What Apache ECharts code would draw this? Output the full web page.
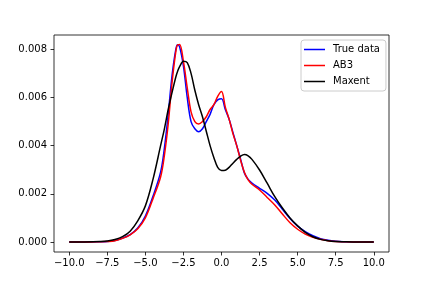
<!DOCTYPE html>
<html>
<head>
<meta charset="utf-8">
<script src="https://cdn.jsdelivr.net/npm/echarts@6/dist/echarts.min.js"></script>
<style>html,body{margin:0;padding:0;background:#fff;}#c{width:432px;height:288px;}</style>
</head>
<body>
<div id="c"></div>
<script>
var xs = [-10, -9, -8, -7.5, -7, -6.5, -6, -5.5, -5, -4.5, -4, -3.75, -3.5, -3.25, -3, -2.875, -2.75, -2.5, -2.25, -2, -1.75, -1.5, -1.25, -1, -0.75, -0.5, -0.25, 0, 0.25, 0.5, 0.75, 1, 1.25, 1.5, 1.75, 2, 2.5, 3, 3.5, 4, 4.5, 5, 5.5, 6, 6.5, 7, 7.5, 8, 9, 10];
var trueData = [0, 0, 0.00001, 0.00002, 0.00006, 0.00016, 0.00031, 0.00058, 0.00108, 0.0019, 0.0029, 0.0039, 0.0053, 0.0069, 0.0080, 0.00819, 0.0081, 0.0073, 0.0060, 0.0050, 0.0047, 0.00458, 0.0047, 0.0050, 0.0053, 0.0057, 0.0059, 0.00595, 0.0055, 0.0051, 0.00455, 0.0040, 0.00345, 0.00287, 0.0026, 0.00245, 0.00223, 0.00202, 0.00174, 0.00136, 0.00098, 0.00066, 0.00043, 0.00026, 0.00014, 0.00007, 0.00003, 0.00001, 0, 0];
var ab3 = [0, 0, 0.00001, 0.00002, 0.00005, 0.00015, 0.0003, 0.00055, 0.001, 0.0018, 0.0027, 0.0036, 0.0049, 0.0066, 0.0079, 0.00819, 0.0082, 0.0075, 0.0064, 0.0054, 0.0050, 0.0049, 0.0050, 0.0052, 0.0055, 0.0057, 0.00605, 0.00625, 0.0056, 0.0051, 0.0045, 0.0040, 0.0034, 0.0029, 0.00258, 0.0024, 0.00216, 0.00185, 0.00154, 0.00116, 0.0008, 0.00053, 0.00033, 0.0002, 0.00011, 0.00005, 0.00002, 0.00001, 0, 0];
var maxent = [0, 0.000005, 0.00002, 0.00004, 0.0001, 0.00022, 0.00045, 0.00088, 0.0015, 0.0026, 0.0040, 0.0047, 0.0055, 0.0062, 0.00685, 0.0071, 0.00728, 0.0075, 0.00745, 0.0070, 0.0063, 0.0057, 0.0052, 0.0046, 0.0040, 0.0035, 0.0031, 0.00297, 0.00298, 0.0031, 0.00327, 0.00343, 0.00356, 0.00363, 0.00358, 0.00343, 0.00299, 0.00244, 0.00188, 0.00141, 0.001, 0.00067, 0.0004, 0.00022, 0.00011, 0.00005, 0.00002, 0.00001, 0, 0];
var xTicks = [-10, -7.5, -5, -2.5, 0, 2.5, 5, 7.5, 10];
var yTicks = [0, 0.002, 0.004, 0.006, 0.008];
var seriesNames = ['True data', 'AB3', 'Maxent'];
var seriesColors = ['#0000ff', '#ff0000', '#000000'];

function pairs(ys) { return xs.map(function (x, i) { return [x, ys[i]]; }); }
var allData = [trueData, ab3, maxent];
var font = 'DejaVu Sans';
var chart = echarts.init(document.getElementById('c'), null, {renderer: 'canvas'});
chart.setOption({
  animation: false,
  backgroundColor: '#ffffff',
  grid: {left: 54, right: 43, top: 35, bottom: 36, show: true, borderColor: '#000', borderWidth: 0.8, backgroundColor: 'transparent'},
  legend: {
    orient: 'vertical', left: 301, top: 40,
    data: seriesNames,
    icon: 'path://M0,0h0.01v11h-0.01zM0,4.75h21v1.5h-21z',
    itemWidth: 21, itemHeight: 11, itemGap: 5,
    padding: [4, 6, 4, 3],
    backgroundColor: 'rgba(255,255,255,0.8)', borderColor: '#cccccc', borderWidth: 1, borderRadius: 3,
    textStyle: {fontFamily: font, fontSize: 10, color: '#000', padding: [0, 0, 0, 3]}
  },
  xAxis: {
    type: 'value', min: -11, max: 11,
    axisLine: {show: false, onZero: false},
    splitLine: {show: false},
    axisTick: {show: true, customValues: xTicks, length: 3.5, lineStyle: {color: '#000', width: 0.8}},
    axisLabel: {customValues: xTicks, margin: 6, fontFamily: font, fontSize: 10, color: '#000',
      formatter: function (v) { return (v < 0 ? '\u2212' : '') + Math.abs(v).toFixed(1); }}
  },
  yAxis: {
    type: 'value', min: -0.000415, max: 0.008594,
    axisLine: {show: false, onZero: false},
    splitLine: {show: false},
    axisTick: {show: true, customValues: yTicks, length: 3.5, lineStyle: {color: '#000', width: 0.8}},
    axisLabel: {customValues: yTicks, margin: 7, fontFamily: font, fontSize: 10, color: '#000',
      formatter: function (v) { return v.toFixed(3); }}
  },
  series: seriesNames.map(function (n, i) {
    return {
      name: n, type: 'line', data: pairs(allData[i]), symbol: 'none', smooth: 0.35,
      lineStyle: {color: seriesColors[i], width: 1.5},
      itemStyle: {color: seriesColors[i]}
    };
  })
});
</script>
</body>
</html>
